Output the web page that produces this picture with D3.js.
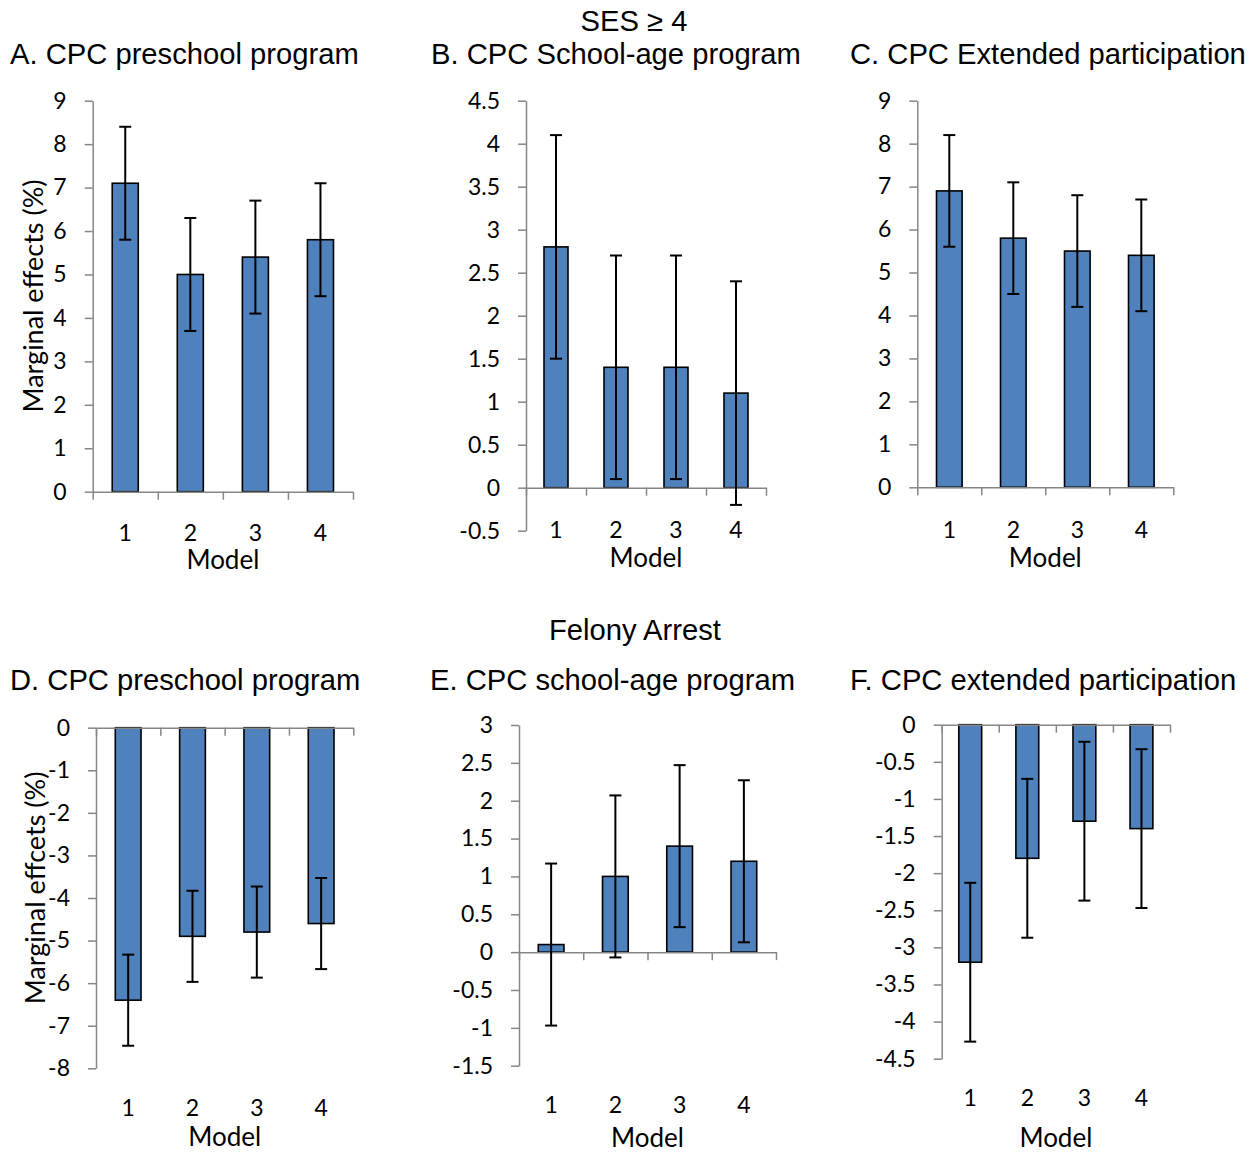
<!DOCTYPE html>
<html>
<head>
<meta charset="utf-8">
<script src="https://cdn.jsdelivr.net/npm/d3@7"></script>
<style>
    body { margin: 0; background: #fff; }
    .title { font-family: "Liberation Sans", Arial, sans-serif; font-size: 29.2px; fill: #000; }
    .tick text { font-family: Lato, sans-serif; font-size: 23px; fill: #000; }
    .axis path, .axis line { stroke: #868686; stroke-width: 1.5; }
    .cat { font-family: Lato, sans-serif; font-size: 23px; fill: #000; }
    .xlab { font-family: Lato, sans-serif; font-size: 26px; fill: #000; }
    .ylab { font-family: Lato, sans-serif; font-size: 27px; fill: #000; }
</style>
</head>
<body>
<div id="chart"></div>
<script>
// data
var models = ["1", "2", "3", "4"];

// SES >= 4, marginal effects (%)
var sesPreschool = [7.1, 5.0, 5.4, 5.8];
var sesSchoolAge = [2.8, 1.4, 1.4, 1.1];
var sesExtended = [6.9, 5.8, 5.5, 5.4];
var sesErr = [1.3, 1.3, 1.3, 1.3];

// felony arrest, marginal effects (%)
var felPreschool = [-6.4, -4.9, -4.8, -4.6];
var felSchoolAge = [0.1, 1.0, 1.4, 1.2];
var felExtended = [-3.2, -1.8, -1.3, -1.4];
var felErr = [1.07, 1.07, 1.07, 1.07];

// y tick labels
var ticks0to9 = [0, 1, 2, 3, 4, 5, 6, 7, 8, 9];
var ticksB = [-0.5, 0, 0.5, 1, 1.5, 2, 2.5, 3, 3.5, 4, 4.5];
var ticksD = [-8, -7, -6, -5, -4, -3, -2, -1, 0];
var ticksE = [-1.5, -1, -0.5, 0, 0.5, 1, 1.5, 2, 2.5, 3];
var ticksF = [-4.5, -4, -3.5, -3, -2.5, -2, -1.5, -1, -0.5, 0];

var svgWidth = 1260;
var svgHeight = 1154;

var svg = d3.select("#chart")
    .append("svg")
    .attr("width", svgWidth)
    .attr("height", svgHeight);

// panel layout
var panels = [
    { title: "A. CPC preschool program", tx: 10, ty: 64, vals: sesPreschool, err: sesErr, ticks: ticks0to9,
      x0: 92.7, x1: 353, top: 100.7, bottom: 491.7, catY: 541, modelY: 569 },
    { title: "B. CPC School-age program", tx: 431, ty: 64, vals: sesSchoolAge, err: sesErr, ticks: ticksB,
      x0: 526, x1: 766, top: 100.7, bottom: 530.7, catY: 538, modelY: 567 },
    { title: "C. CPC Extended participation", tx: 850, ty: 64, vals: sesExtended, err: sesErr, ticks: ticks0to9,
      x0: 917.3, x1: 1173.3, top: 100.7, bottom: 487.3, catY: 538, modelY: 567 },
    { title: "D. CPC preschool program", tx: 10, ty: 690, vals: felPreschool, err: felErr, ticks: ticksD,
      x0: 96, x1: 353.3, top: 727.7, bottom: 1068.3, catY: 1116, modelY: 1146 },
    { title: "E. CPC school-age program", tx: 430, ty: 690, vals: felSchoolAge, err: felErr, ticks: ticksE,
      x0: 519, x1: 776, top: 725, bottom: 1065.7, catY: 1113, modelY: 1147 },
    { title: "F. CPC extended participation", tx: 850, ty: 690, vals: felExtended, err: felErr, ticks: ticksF,
      x0: 941.7, x1: 1170, top: 724.7, bottom: 1058.7, catY: 1106, modelY: 1147 }
];

// section headings
svg.append("text")
    .attr("class", "title")
    .attr("x", 634)
    .attr("y", 31)
    .attr("text-anchor", "middle")
    .text("SES \u2265 4");

svg.append("text")
    .attr("class", "title")
    .attr("x", 635)
    .attr("y", 640)
    .attr("text-anchor", "middle")
    .text("Felony Arrest");

// y axis titles
svg.append("text")
    .attr("class", "ylab")
    .attr("transform", "translate(43, 296) rotate(-90)")
    .attr("text-anchor", "middle")
    .text("Marginal effects (%)");

svg.append("text")
    .attr("class", "ylab")
    .attr("transform", "translate(45, 888) rotate(-90)")
    .attr("text-anchor", "middle")
    .text("Marginal effcets (%)");

panels.forEach(drawPanel);

function drawPanel(p) {
    var g = svg.append("g");

    var ticks = p.ticks;
    var yScale = d3.scaleLinear()
        .domain([d3.min(ticks), d3.max(ticks)])
        .range([p.bottom, p.top]);

    var xScale = d3.scaleBand()
        .domain(models)
        .range([p.x0, p.x1])
        .paddingInner(0.6)
        .paddingOuter(0.3);

    // category boundaries for the tick marks
    var edgeScale = d3.scaleLinear()
        .domain([0, models.length])
        .range([p.x0, p.x1]);

    g.append("text")
        .attr("class", "title")
        .attr("x", p.tx)
        .attr("y", p.ty)
        .text(p.title);

    var data = p.vals.map(function (v, i) {
        return { model: models[i], value: v, err: p.err[i] };
    });

    // bars
    g.selectAll("rect.bar")
        .data(data)
        .enter()
        .append("rect")
        .attr("class", "bar")
        .attr("x", d => xScale(d.model))
        .attr("width", xScale.bandwidth())
        .attr("y", d => yScale(Math.max(0, d.value)))
        .attr("height", d => Math.abs(yScale(d.value) - yScale(0)))
        .attr("fill", "#4f81bd")
        .attr("stroke", "#000")
        .attr("stroke-width", 1.6);

    // axes
    g.append("g")
        .attr("class", "axis")
        .attr("transform", `translate(${p.x0}, 0)`)
        .call(d3.axisLeft(yScale)
            .tickValues(ticks)
            .tickSize(8)
            .tickSizeOuter(0)
            .tickPadding(18)
            .tickFormat(d => String(d)));

    g.append("g")
        .attr("class", "axis")
        .attr("transform", `translate(0, ${yScale(0)})`)
        .call(d3.axisBottom(edgeScale)
            .tickValues(d3.range(models.length + 1))
            .tickSize(8)
            .tickSizeOuter(0)
            .tickFormat(""));

    // error bars
    var cap = 6;
    var errG = g.selectAll("g.err")
        .data(data)
        .enter()
        .append("g")
        .attr("class", "err")
        .attr("stroke", "#000")
        .attr("stroke-width", 2);

    errG.append("line")
        .attr("x1", d => xScale(d.model) + xScale.bandwidth() / 2)
        .attr("x2", d => xScale(d.model) + xScale.bandwidth() / 2)
        .attr("y1", d => yScale(d.value + d.err))
        .attr("y2", d => yScale(d.value - d.err));

    errG.append("line")
        .attr("x1", d => xScale(d.model) + xScale.bandwidth() / 2 - cap)
        .attr("x2", d => xScale(d.model) + xScale.bandwidth() / 2 + cap)
        .attr("y1", d => yScale(d.value + d.err))
        .attr("y2", d => yScale(d.value + d.err));

    errG.append("line")
        .attr("x1", d => xScale(d.model) + xScale.bandwidth() / 2 - cap)
        .attr("x2", d => xScale(d.model) + xScale.bandwidth() / 2 + cap)
        .attr("y1", d => yScale(d.value - d.err))
        .attr("y2", d => yScale(d.value - d.err));

    // category labels
    g.selectAll("text.cat")
        .data(models)
        .enter()
        .append("text")
        .attr("class", "cat")
        .attr("x", d => xScale(d) + xScale.bandwidth() / 2)
        .attr("y", p.catY)
        .attr("text-anchor", "middle")
        .text(d => d);

    g.append("text")
        .attr("class", "xlab")
        .attr("x", (p.x0 + p.x1) / 2)
        .attr("y", p.modelY)
        .attr("text-anchor", "middle")
        .text("Model");
}
</script>
</body>
</html>
